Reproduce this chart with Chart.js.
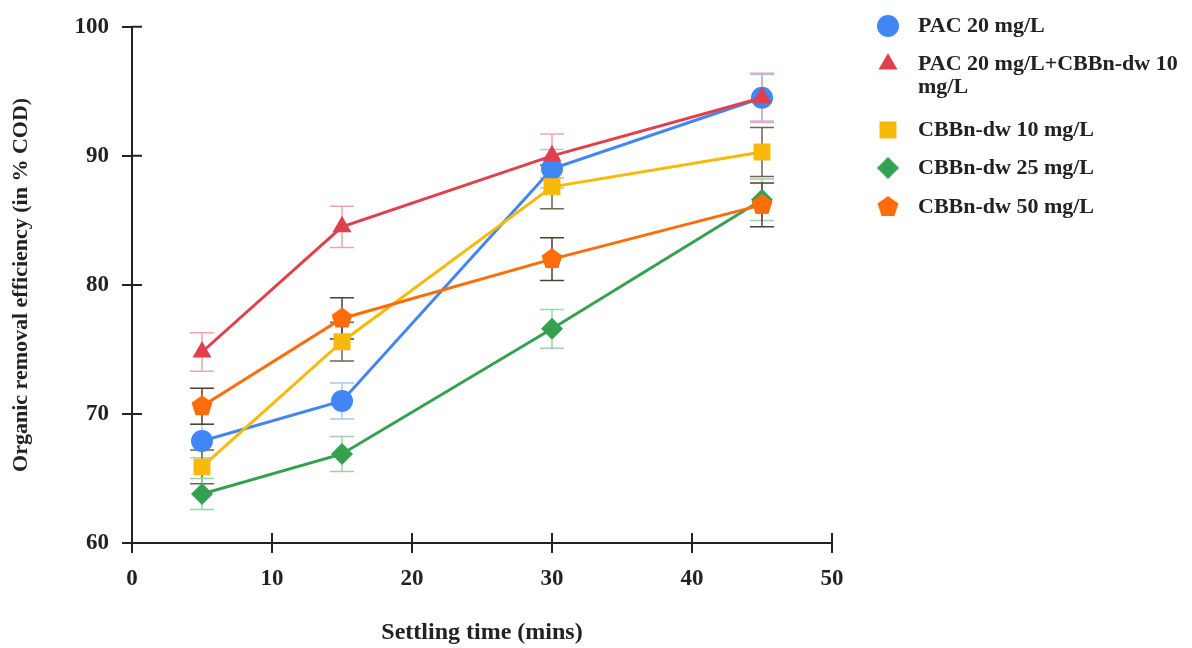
<!DOCTYPE html>
<html lang="en">
<head>
  <meta charset="UTF-8" />
  <title>Organic removal efficiency vs settling time</title>
  <script src="https://cdn.jsdelivr.net/npm/chart.js"></script>
  <style>
    html, body { margin: 0; padding: 0; background: #fff; }
    #wrap { width: 1192px; height: 648px; }
  </style>
</head>
<body>
  <div id="wrap"><canvas id="chart" width="1192" height="648"></canvas></div>

  <script>
    // settling times (mins)
    const times = [5, 15, 30, 45];

    const seriesNames = [
      'PAC 20 mg/L',
      ['PAC 20 mg/L+CBBn-dw 10', 'mg/L'],
      'CBBn-dw 10 mg/L',
      'CBBn-dw 25 mg/L',
      'CBBn-dw 50 mg/L'
    ];

    // % COD removal
    const pac20     = [67.9, 71.0, 89.0, 94.5];
    const pac20cbb  = [74.8, 84.5, 90.0, 94.5];
    const cbb10     = [65.9, 75.6, 87.6, 90.3];
    const cbb25     = [63.8, 66.9, 76.6, 86.6];
    const cbb50     = [70.6, 77.4, 82.0, 86.2];

    // +/- error
    const pac20Err    = [1.3, 1.4, 1.5, 1.8];
    const pac20cbbErr = [1.5, 1.6, 1.7, 1.9];
    const cbb10Err    = [1.3, 1.5, 1.7, 1.9];
    const cbb25Err    = [1.2, 1.35, 1.5, 1.6];
    const cbb50Err    = [1.4, 1.6, 1.65, 1.7];

    const xTicks = [0, 10, 20, 30, 40, 50];
    const yTicks = [60, 70, 80, 90, 100];

    const serif = "'Liberation Serif', 'DejaVu Serif', serif";

    // pentagon marker (no built-in style for it)
    function pentagon(color, r) {
      const c = document.createElement('canvas');
      c.width = c.height = r * 2 + 2;
      const g = c.getContext('2d');
      g.fillStyle = color;
      g.beginPath();
      for (let i = 0; i < 5; i++) {
        const a = -Math.PI / 2 + i * 2 * Math.PI / 5;
        const px = r + 1 + r * Math.cos(a), py = r + 1 + r * Math.sin(a);
        i ? g.lineTo(px, py) : g.moveTo(px, py);
      }
      g.closePath();
      g.fill();
      return c;
    }

    function pts(vals) {
      return times.map((t, i) => ({ x: t, y: vals[i] }));
    }

    const datasets = [
      { label: seriesNames[0], data: pts(pac20), err: pac20Err, color: '#4285F4', errColor: '#a9c5f3', pointStyle: 'circle', pointRadius: 11, order: 4 },
      { label: seriesNames[1], data: pts(pac20cbb), err: pac20cbbErr, color: '#E0404A', errColor: '#f2a3aa', pointStyle: 'triangle', pointRadius: 11, order: 0 },
      { label: seriesNames[2], data: pts(cbb10), err: cbb10Err, color: '#F7BA0B', errColor: '#6e6650', pointStyle: 'rect', pointRadius: 12, order: 2 },
      { label: seriesNames[3], data: pts(cbb25), err: cbb25Err, color: '#34A050', errColor: '#9cd3a8', pointStyle: 'rectRot', pointRadius: 11, order: 3 },
      { label: seriesNames[4], data: pts(cbb50), err: cbb50Err, color: '#FF6D0A', errColor: '#4d4036', pointStyle: pentagon('#FF6D0A', 11), pointRadius: 11, order: 1 }
    ].map(d => Object.assign(d, {
      borderColor: d.color,
      backgroundColor: d.color,
      pointBackgroundColor: d.color,
      pointBorderColor: d.color,
      pointBorderWidth: 0,
      borderWidth: 3,
      tension: 0,
      fill: false
    }));

    // error bars under the markers
    const errorBars = {
      id: 'errorBars',
      beforeDatasetsDraw(chart) {
        const ctx = chart.ctx, xs = chart.scales.x, ys = chart.scales.y;
        ctx.save();
        ctx.lineWidth = 1.5;
        chart.data.datasets.forEach(ds => {
          ctx.strokeStyle = ds.errColor;
          ds.data.forEach((p, i) => {
            const x = xs.getPixelForValue(p.x);
            const y1 = ys.getPixelForValue(p.y + ds.err[i]);
            const y2 = ys.getPixelForValue(p.y - ds.err[i]);
            ctx.beginPath();
            ctx.moveTo(x, y1); ctx.lineTo(x, y2);
            ctx.moveTo(x - 12, y1); ctx.lineTo(x + 12, y1);
            ctx.moveTo(x - 12, y2); ctx.lineTo(x + 12, y2);
            ctx.stroke();
          });
        });
        ctx.restore();
      }
    };

    // inner half of the crossing tick marks
    const innerTicks = {
      id: 'innerTicks',
      afterDraw(chart) {
        const ctx = chart.ctx, xs = chart.scales.x, ys = chart.scales.y;
        const a = chart.chartArea;
        ctx.save();
        ctx.strokeStyle = '#222';
        ctx.lineWidth = 2;
        ctx.beginPath();
        xTicks.forEach(v => {
          const x = xs.getPixelForValue(v);
          ctx.moveTo(x, a.bottom); ctx.lineTo(x, a.bottom - 10);
        });
        yTicks.forEach(v => {
          const y = ys.getPixelForValue(v);
          ctx.moveTo(a.left, y); ctx.lineTo(a.left + 10, y);
        });
        ctx.stroke();
        ctx.restore();
      }
    };

    // legend on the right
    const sideLegend = {
      id: 'sideLegend',
      afterDraw(chart) {
        const ctx = chart.ctx;
        const rows = [26, 64, 130, 168, 207];
        ctx.save();
        ctx.textBaseline = 'middle';
        chart.data.datasets.forEach((ds, i) => {
          const y = rows[i];
          ctx.fillStyle = ds.color;
          ctx.strokeStyle = ds.color;
          Chart.helpers.drawPoint(ctx, { pointStyle: ds.pointStyle, radius: ds.pointRadius, borderWidth: 0, rotation: 0 }, 888, y);
          ctx.font = 'bold 22px ' + serif;
          ctx.fillStyle = '#222';
          const lines = Array.isArray(ds.label) ? ds.label : [ds.label];
          lines.forEach((t, k) => ctx.fillText(t, 918, y + k * 23));
        });
        ctx.restore();
      }
    };

    new Chart(document.getElementById('chart'), {
      type: 'line',
      data: { datasets },
      options: {
        responsive: false,
        animation: false,
        layout: { padding: { top: 23, right: 360, left: 0, bottom: 0 } },
        plugins: { legend: { display: false }, tooltip: { enabled: false } },
        scales: {
          x: {
            type: 'linear',
            min: xTicks[0],
            max: xTicks[xTicks.length - 1],
            afterBuildTicks: s => { s.ticks = xTicks.map(v => ({ value: v })); },
            afterFit: s => { s.height = 105; },
            border: { display: true, color: '#222', width: 2 },
            grid: { display: true, drawOnChartArea: false, drawTicks: true, tickLength: 10, color: '#222', lineWidth: 2 },
            ticks: { color: '#222', padding: 12, font: { family: serif, size: 23, weight: 'bold' } },
            title: { display: true, text: 'Settling time (mins)', color: '#222', padding: { top: 0, bottom: 1 }, font: { family: serif, size: 24, weight: 'bold' } }
          },
          y: {
            type: 'linear',
            min: yTicks[0],
            max: yTicks[yTicks.length - 1],
            afterBuildTicks: s => { s.ticks = yTicks.map(v => ({ value: v })); },
            afterFit: s => { s.width = 132; },
            border: { display: true, color: '#222', width: 2 },
            grid: { display: true, drawOnChartArea: false, drawTicks: true, tickLength: 10, color: '#222', lineWidth: 2 },
            ticks: { color: '#222', padding: 13, font: { family: serif, size: 23, weight: 'bold' } },
            title: { display: true, text: 'Organic removal efficiency (in % COD)', color: '#222', padding: { top: 8, bottom: 0 }, font: { family: serif, size: 22, weight: 'bold' } }
          }
        }
      },
      plugins: [errorBars, innerTicks, sideLegend]
    });
  </script>
</body>
</html>
